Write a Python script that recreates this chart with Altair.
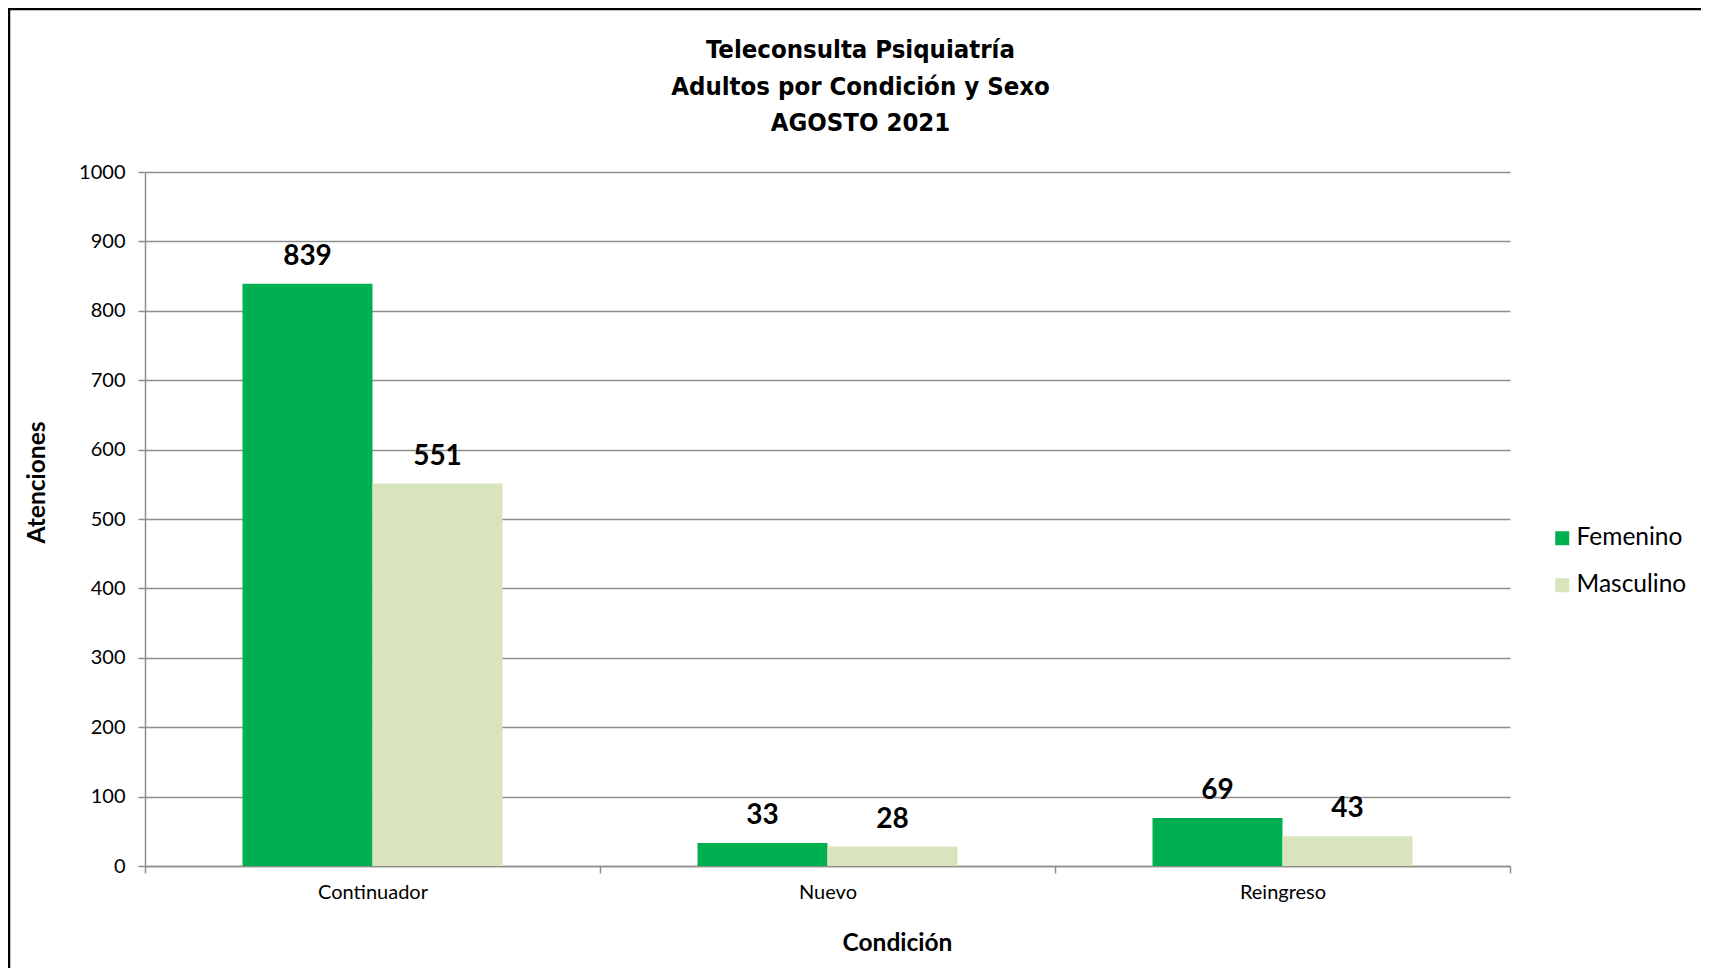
import altair as alt
import pandas as pd

condiciones = ["Continuador", "Nuevo", "Reingreso"]
sexos = ["Femenino", "Masculino"]
femenino = [839, 33, 69]
masculino = [551, 28, 43]
colores = ["#00B050", "#D8E4BC"]
titulo = ["Teleconsulta Psiquiatría", "Adultos por Condición y Sexo", "AGOSTO 2021"]
y_ticks = list(range(0, 1001, 100))

rows = []
for c, f, m in zip(condiciones, femenino, masculino):
    rows.append({"Condición": c, "Sexo": sexos[0], "Atenciones": f})
    rows.append({"Condición": c, "Sexo": sexos[1], "Atenciones": m})
df = pd.DataFrame(rows)

W, H = 1365, 694
GRID = "#8E8E8E"
FONT = "Lato"

x_enc = alt.X(
    "Condición:N",
    sort=condiciones,
    scale=alt.Scale(paddingInner=0, paddingOuter=0),
    axis=alt.Axis(
        title="Condición",
        labelAngle=0,
        tickBand="extent",
        grid=False,
        domainColor=GRID,
        domainWidth=1.5,
        tickColor=GRID,
        tickWidth=1.5,
        tickSize=7,
        labelFont=FONT,
        labelFontSize=20,
        labelColor="#000000",
        labelPadding=9,
        titleFont=FONT,
        titleFontSize=24.5,
        titleFontWeight="bold",
        titleColor="#000000",
        titleX=752,
        titleY=77,
        titleAlign="center",
        titleBaseline="middle",
    ),
)
y_enc = alt.Y(
    "Atenciones:Q",
    scale=alt.Scale(domain=[0, 1000], nice=False),
    axis=alt.Axis(
        title="Atenciones",
        values=y_ticks,
        format="d",
        grid=True,
        gridColor=GRID,
        gridWidth=1.5,
        domainColor=GRID,
        domainWidth=1.5,
        tickColor=GRID,
        tickWidth=1.5,
        tickSize=7,
        labelFont=FONT,
        labelFontSize=20,
        labelColor="#000000",
        labelPadding=13,
        titleFont=FONT,
        titleFontSize=24.5,
        titleFontWeight="bold",
        titleColor="#000000",
        titleX=-108,
        titleY=310,
        titleAngle=270,
        titleAlign="center",
        titleBaseline="middle",
    ),
)
xoff = alt.XOffset(
    "Sexo:N", sort=sexos, scale=alt.Scale(paddingInner=0, paddingOuter=0.75)
)

base = alt.Chart(df)
bars = base.mark_bar().encode(
    x=x_enc,
    xOffset=xoff,
    y=y_enc,
    color=alt.Color(
        "Sexo:N",
        sort=sexos,
        scale=alt.Scale(domain=sexos, range=colores),
        legend=alt.Legend(
            title=None,
            orient="none",
            legendX=1405,
            legendY=354,
            symbolType="square",
            symbolSize=196,
            symbolStrokeWidth=0,
            labelFont=FONT,
            labelFontSize=24.5,
            labelColor="#000000",
            labelOffset=2,
            rowPadding=22,
            padding=0,
        ),
    ),
)
labels = base.mark_text(
    dy=-19, baseline="alphabetic", fontSize=28, fontWeight="bold", font=FONT, color="#000000"
).encode(
    x=alt.X("Condición:N", sort=condiciones),
    xOffset=alt.XOffset("Sexo:N", sort=sexos),
    y=alt.Y("Atenciones:Q"),
    text=alt.Text("Atenciones:Q"),
)
border = alt.Chart(alt.Data(values=[{"b": 1}])).mark_rect(
    fillOpacity=0, stroke="#000000", strokeWidth=2.5
).encode(
    x=alt.value(-136), x2=alt.value(1640), y=alt.value(-163), y2=alt.value(900)
)

chart = alt.layer(bars, labels, border).properties(
    width=W,
    height=H,
    background="#FFFFFF",
    title=alt.Title(
        titulo,
        font="Liberation Sans Narrow, Arial Narrow, DejaVu Sans Condensed, sans-serif",
        fontSize=25.5,
        fontWeight="bold",
        color="#000000",
        lineHeight=36.5,
        anchor="middle",
        dx=33,
        dy=159,
        offset=30,
    ),
    autosize=alt.AutoSizeParams(type="none"),
    padding={"left": 137, "top": 164, "right": 191, "bottom": 102},
).configure_view(strokeWidth=0, strokeOpacity=0)

chart.save("out.html", embed_options={"renderer": "svg", "actions": False})
